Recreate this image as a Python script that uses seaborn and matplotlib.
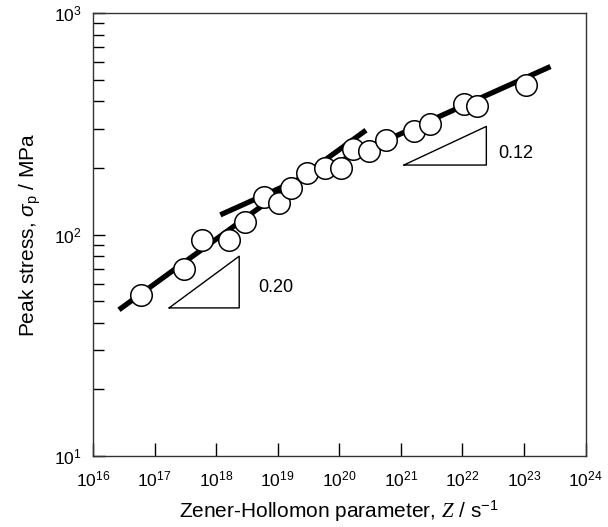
import numpy as np
import pandas as pd
import matplotlib
matplotlib.use("Agg")
import matplotlib.pyplot as plt
from matplotlib.ticker import FixedLocator, FixedFormatter, LogLocator, NullFormatter, NullLocator
import seaborn as sns

# ---- data ----
z_values = [6.0e16, 2.98e17, 5.98e17, 1.61e18, 2.90e18, 5.97e18, 1.06e19, 1.67e19,
            3.01e19, 5.97e19, 1.06e20, 1.67e20, 3.09e20, 5.83e20, 1.66e21, 2.97e21,
            1.07e22, 1.71e22, 1.08e23]
peak_stress = [53.4, 69.8, 94.6, 94.6, 113.7, 148.5, 138.7, 162.3, 188.8, 199.6,
               200.3, 243.3, 238.8, 268.0, 294.4, 316.0, 388.9, 380.0, 472.0]

fit_low_z = [2.64e16, 2.72e20]
fit_low_s = [45.7, 296.0]
fit_high_z = [1.17e18, 2.70e23]
fit_high_s = [122.7, 574.0]

tri_low_z = [1.72e17, 2.37e18, 2.37e18, 1.72e17]
tri_low_s = [46.6, 46.6, 79.8, 46.6]
tri_high_z = [1.12e21, 2.45e22, 2.45e22, 1.12e21]
tri_high_s = [206.0, 206.0, 307.9, 206.0]

slope_labels = ["0.20", "0.12"]
slope_label_z = [4.9e18, 3.8e22]
slope_label_s = [57.8, 233.0]

x_ticks = [10.0 ** e for e in range(16, 25)]
x_ticklabels = [r"$\mathregular{10^{%d}}$" % e for e in range(16, 25)]
y_ticks = [10.0, 100.0, 1000.0]
y_ticklabels = [r"$\mathregular{10^{1}}$", r"$\mathregular{10^{2}}$", r"$\mathregular{10^{3}}$"]

df = pd.DataFrame({"Z": z_values, "sigma": peak_stress})
fit1 = pd.DataFrame({"Z": fit_low_z, "sigma": fit_low_s})
fit2 = pd.DataFrame({"Z": fit_high_z, "sigma": fit_high_s})

# ---- style ----
sns.set_style("ticks")
plt.rcParams["font.family"] = ["Liberation Sans", "DejaVu Sans"]
plt.rcParams["mathtext.fontset"] = "custom"
plt.rcParams["mathtext.rm"] = "Liberation Sans"
plt.rcParams["mathtext.it"] = "Liberation Serif:italic"
plt.rcParams["mathtext.sf"] = "Liberation Sans:italic"
plt.rcParams["mathtext.default"] = "regular"
for key in ["text.color", "axes.labelcolor", "xtick.color", "ytick.color"]:
    plt.rcParams[key] = "black"

fig = plt.figure(figsize=(6.08, 5.27), dpi=100)
ax = fig.add_axes([0.153, 0.135, 0.810, 0.840])

sns.lineplot(data=fit1, x="Z", y="sigma", ax=ax, color="black", lw=3.8,
             solid_capstyle="butt", legend=False, zorder=2)
sns.lineplot(data=fit2, x="Z", y="sigma", ax=ax, color="black", lw=3.8,
             solid_capstyle="butt", legend=False, zorder=2)
sns.scatterplot(data=df, x="Z", y="sigma", ax=ax, s=240, marker="o",
                facecolor="white", edgecolor="black", linewidth=1.1, zorder=3)

ax.plot(tri_low_z, tri_low_s, color="black", lw=1.0, zorder=1)
ax.plot(tri_high_z, tri_high_s, color="black", lw=1.0, zorder=1)
for lab, zx, sy in zip(slope_labels, slope_label_z, slope_label_s):
    ax.text(zx, sy, lab, fontsize=13, va="center", ha="left")

ax.set_xscale("log")
ax.set_yscale("log")
ax.set_xlim(1e16, 1e24)
ax.set_ylim(10, 1000)

ax.xaxis.set_major_locator(FixedLocator(x_ticks))
ax.xaxis.set_major_formatter(FixedFormatter(x_ticklabels))
ax.xaxis.set_minor_locator(NullLocator())
ax.yaxis.set_major_locator(FixedLocator(y_ticks))
ax.yaxis.set_major_formatter(FixedFormatter(y_ticklabels))
ax.yaxis.set_minor_locator(LogLocator(base=10, subs=np.arange(2, 10)))
ax.yaxis.set_minor_formatter(NullFormatter())

ax.tick_params(axis="x", which="major", direction="in", length=9.5, width=1.0,
               labelsize=12.5, pad=10, top=False)
ax.tick_params(axis="y", which="major", direction="in", length=8.5, width=1.0,
               labelsize=12.5, pad=8, right=False)
ax.tick_params(axis="y", which="minor", direction="in", length=8, width=1.0, right=False)

for sp in ax.spines.values():
    sp.set_visible(True)
    sp.set_linewidth(1.0)
    sp.set_color("#333333")

ax.set_xlabel(r"Zener-Hollomon parameter, $\mathit{Z}$ / s$^{-1}$", fontsize=15, labelpad=6)
ax.set_ylabel(r"Peak stress, $\mathsf{\sigma}_{\rm p}$ / MPa", fontsize=15, labelpad=8)

fig.savefig("out.png", dpi=100)
